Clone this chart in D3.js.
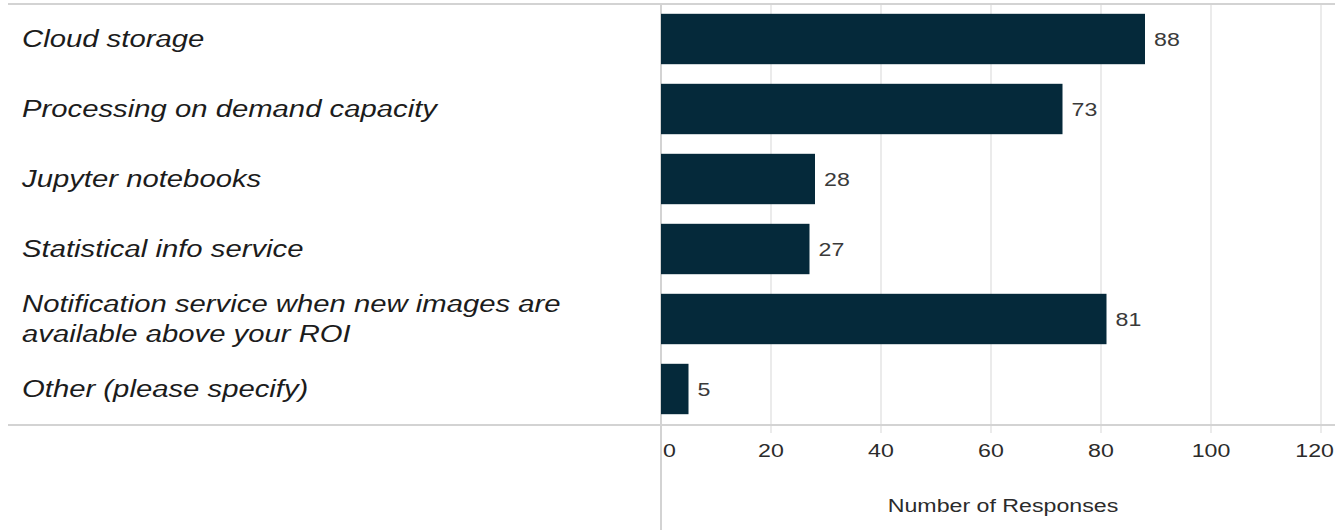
<!DOCTYPE html>
<html>
<head>
<meta charset="utf-8">
<script src="https://cdn.jsdelivr.net/npm/d3@7"></script>
<style>
  html, body { margin: 0; padding: 0; background: #fff; }
  svg { display: block; }
  text { font-family: "Liberation Sans", Arial, sans-serif; }
</style>
</head>
<body>
<svg id="chart" width="1335" height="530"></svg>
<script>
// Survey responses: which platform features respondents want
const categories = [
  ["Cloud storage"],
  ["Processing on demand capacity"],
  ["Jupyter notebooks"],
  ["Statistical info service"],
  ["Notification service when new images are", "available above your ROI"],
  ["Other (please specify)"]
];
const responses = [88, 73, 28, 27, 81, 5];
const xTicks = [0, 20, 40, 60, 80, 100, 120];
const xTitle = "Number of Responses";

const W = 1335, H = 530;
const plot = { left: 661, right: 1321, top: 4, bottom: 425 };
const lineLeft = 8;
const stretch = 1.22; // text is set a little wide

const svg = d3.select("#chart");

const x = d3.scaleLinear().domain([0, 120]).range([plot.left, plot.right]);
const y = d3.scaleBand()
  .domain(d3.range(categories.length))
  .range([plot.top, plot.bottom - 1])
  .paddingInner(0.28)
  .paddingOuter(0.14);

// vertical gridlines
svg.append("g")
  .selectAll("line")
  .data(xTicks.slice(1))
  .join("line")
  .attr("x1", d => x(d)).attr("x2", d => x(d))
  .attr("y1", plot.top).attr("y2", plot.bottom + 8)
  .attr("stroke", "#ebebeb")
  .attr("stroke-width", 2);

// frame lines
svg.append("line")
  .attr("x1", lineLeft).attr("x2", W)
  .attr("y1", plot.top).attr("y2", plot.top)
  .attr("stroke", "#d3d3d3").attr("stroke-width", 2);
svg.append("line")
  .attr("x1", lineLeft).attr("x2", W)
  .attr("y1", plot.bottom).attr("y2", plot.bottom)
  .attr("stroke", "#d3d3d3").attr("stroke-width", 2);
svg.append("line")
  .attr("x1", x(0)).attr("x2", x(0))
  .attr("y1", plot.top).attr("y2", H)
  .attr("stroke", "#d3d3d3").attr("stroke-width", 2);

// bars
svg.append("g")
  .selectAll("rect")
  .data(responses)
  .join("rect")
  .attr("x", x(0))
  .attr("y", (d, i) => y(i))
  .attr("width", d => x(d) - x(0))
  .attr("height", y.bandwidth())
  .attr("fill", "#05293a");

// value labels
svg.append("g")
  .selectAll("text")
  .data(responses)
  .join("text")
  .attr("transform", (d, i) =>
    `translate(${x(d) + 9},${y(i) + y.bandwidth() / 2 + 7}) scale(${stretch},1)`)
  .attr("font-size", 19)
  .attr("fill", "#3a3a3a")
  .text(d => d);

// category labels
const cat = svg.append("g")
  .selectAll("text")
  .data(categories)
  .join("text")
  .attr("font-size", 24)
  .attr("font-style", "italic")
  .attr("fill", "#1c1c1c")
  .attr("transform", (d, i) => {
    const mid = y(i) + y.bandwidth() / 2 + 8 - (d.length - 1) * 15;
    return `translate(22,${mid}) scale(${stretch},1)`;
  });
cat.selectAll("tspan")
  .data(d => d)
  .join("tspan")
  .attr("x", 0)
  .attr("dy", (d, j) => j === 0 ? 0 : 30)
  .text(d => d);

// x tick labels
svg.append("g")
  .selectAll("text")
  .data(xTicks)
  .join("text")
  .attr("font-size", 19)
  .attr("fill", "#2b2b2b")
  .attr("text-anchor", (d, i) => i === 0 ? "start" : (i === xTicks.length - 1 ? "end" : "middle"))
  .attr("transform", (d, i) => {
    let px = x(d);
    if (i === 0) px = x(d) + 2;
    if (i === xTicks.length - 1) px = W - 1;
    return `translate(${px},457) scale(${stretch},1)`;
  })
  .text(d => d);

// x axis title
svg.append("text")
  .attr("font-size", 19)
  .attr("fill", "#2b2b2b")
  .attr("text-anchor", "middle")
  .attr("transform", `translate(${(plot.left + W) / 2 + 5},512) scale(${stretch},1)`)
  .text(xTitle);
</script>
</body>
</html>
